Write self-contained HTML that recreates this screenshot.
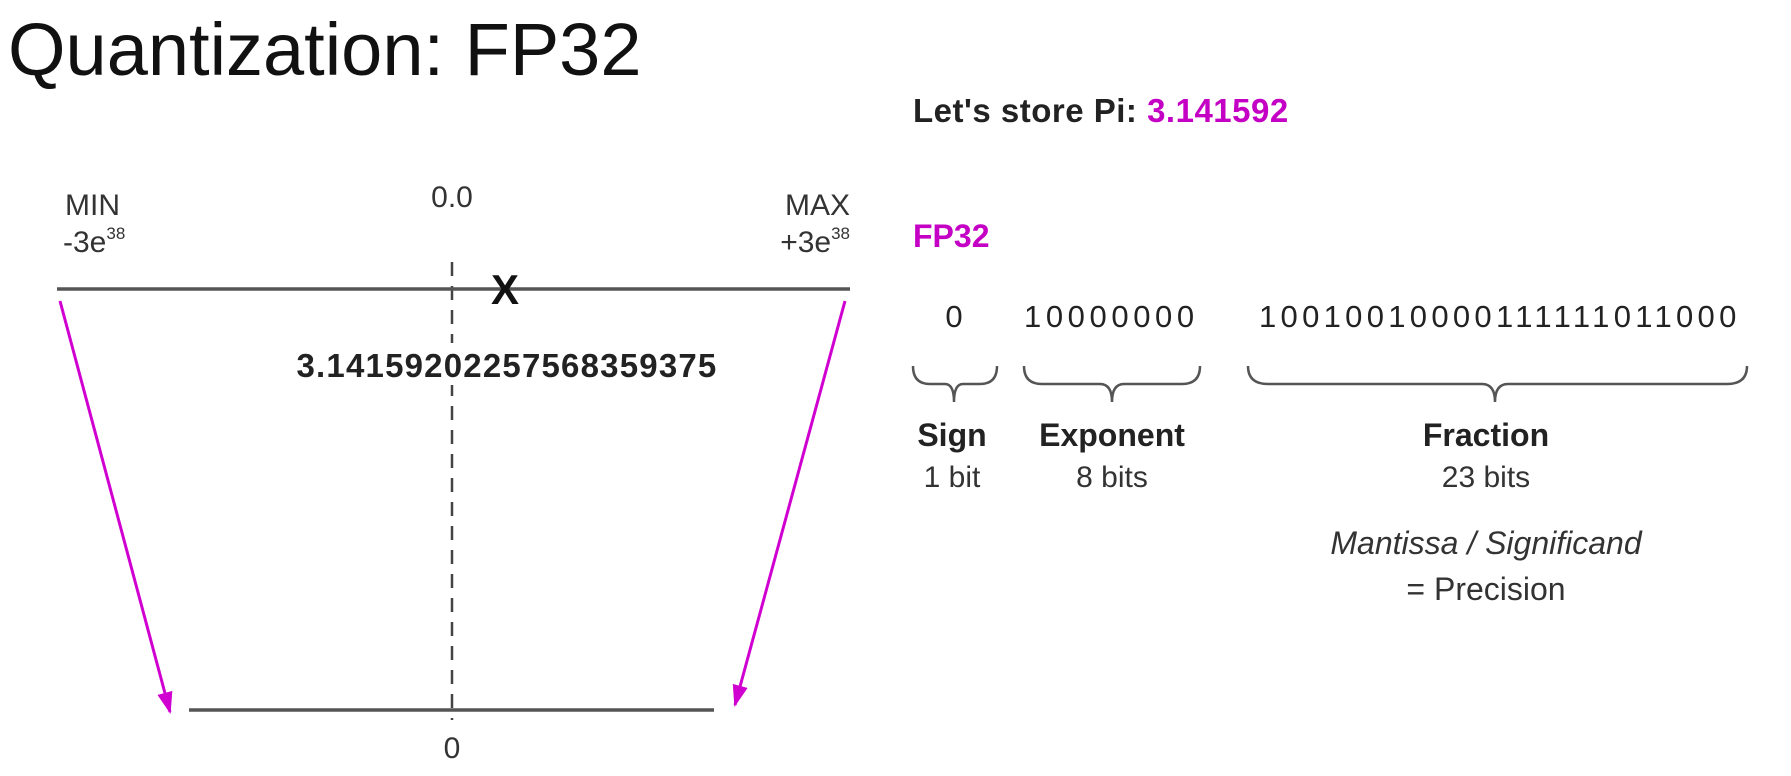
<!DOCTYPE html>
<html><head><meta charset="utf-8"><style>
html,body{margin:0;padding:0;background:#fff;}
svg{display:block;font-family:"Liberation Sans",sans-serif;}
</style></head><body>
<svg width="1791" height="776" viewBox="0 0 1791 776" xmlns="http://www.w3.org/2000/svg">
<defs>
<marker id="ah2" viewBox="0 0 20 20" markerWidth="22" markerHeight="22" refX="18" refY="10" orient="auto" markerUnits="userSpaceOnUse">
<path d="M0,3 L20,10 L0,17 Z" fill="#d000d0"/>
</marker>
</defs>
<text x="8" y="75" font-size="74" fill="#111">Quantization: FP32</text>
<text x="913" y="122" font-size="33" font-weight="bold" fill="#222" letter-spacing="0.5">Let's store Pi: <tspan fill="#c400c4">3.141592</tspan></text>

<text x="65" y="215" font-size="30" fill="#333">MIN</text>
<text x="63" y="252" font-size="30" fill="#333">-3e<tspan font-size="17" dy="-13">38</tspan></text>
<text x="452" y="207" font-size="30" fill="#333" text-anchor="middle">0.0</text>
<text x="850" y="215" font-size="30" fill="#333" text-anchor="end">MAX</text>
<text x="850" y="252" font-size="30" fill="#333" text-anchor="end">+3e<tspan font-size="17" dy="-13">38</tspan></text>

<line x1="452" y1="262" x2="452" y2="720" stroke="#444" stroke-width="2.5" stroke-dasharray="14,10"/>
<line x1="57" y1="289" x2="850" y2="289" stroke="#555" stroke-width="3.5"/>
<text x="505" y="304" font-size="42" font-weight="bold" fill="#111" text-anchor="middle">X</text>
<rect x="280" y="343" width="455" height="42" fill="#fff"/>
<text x="507" y="377" font-size="33" font-weight="bold" fill="#222" text-anchor="middle" letter-spacing="1.2">3.14159202257568359375</text>
<line x1="189" y1="710" x2="714" y2="710" stroke="#555" stroke-width="3.5"/>
<text x="452" y="758" font-size="30" fill="#333" text-anchor="middle">0</text>

<line x1="60" y1="301" x2="170" y2="712" stroke="#d000d0" stroke-width="3" marker-end="url(#ah2)"/>
<line x1="845" y1="301" x2="735" y2="705" stroke="#d000d0" stroke-width="3" marker-end="url(#ah2)"/>

<text x="913" y="247" font-size="32" font-weight="bold" fill="#c400c4">FP32</text>

<text x="954" y="327" font-size="31" fill="#222" text-anchor="middle">0</text>
<text x="1024" y="327" font-size="31" fill="#222" letter-spacing="4.6">10000000</text>
<text x="1259" y="327" font-size="31" fill="#222" letter-spacing="4.3">10010010000111111011000</text>

<g fill="none" stroke="#555" stroke-width="2.5">
<path d="M913,366 Q913,384 930,384 L945,384 Q954,384 954,402 Q954,384 963,384 L980,384 Q997,384 997,366"/>
<path d="M1024,366 Q1024,384 1042,384 L1100,384 Q1112,384 1112,402 Q1112,384 1124,384 L1182,384 Q1200,384 1200,366"/>
<path d="M1248,366 Q1248,384 1268,384 L1482,384 Q1495,384 1495,402 Q1495,384 1508,384 L1727,384 Q1747,384 1747,366"/>
</g>

<text x="952" y="446" font-size="32" font-weight="bold" fill="#222" text-anchor="middle">Sign</text>
<text x="952" y="487" font-size="30" fill="#333" text-anchor="middle">1 bit</text>
<text x="1112" y="446" font-size="32" font-weight="bold" fill="#222" text-anchor="middle">Exponent</text>
<text x="1112" y="487" font-size="30" fill="#333" text-anchor="middle">8 bits</text>
<text x="1486" y="446" font-size="32" font-weight="bold" fill="#222" text-anchor="middle">Fraction</text>
<text x="1486" y="487" font-size="30" fill="#333" text-anchor="middle">23 bits</text>
<text x="1486" y="554" font-size="32" font-style="italic" fill="#333" text-anchor="middle">Mantissa / Significand</text>
<text x="1486" y="600" font-size="32" fill="#333" text-anchor="middle">= Precision</text>
</svg>
</body></html>
